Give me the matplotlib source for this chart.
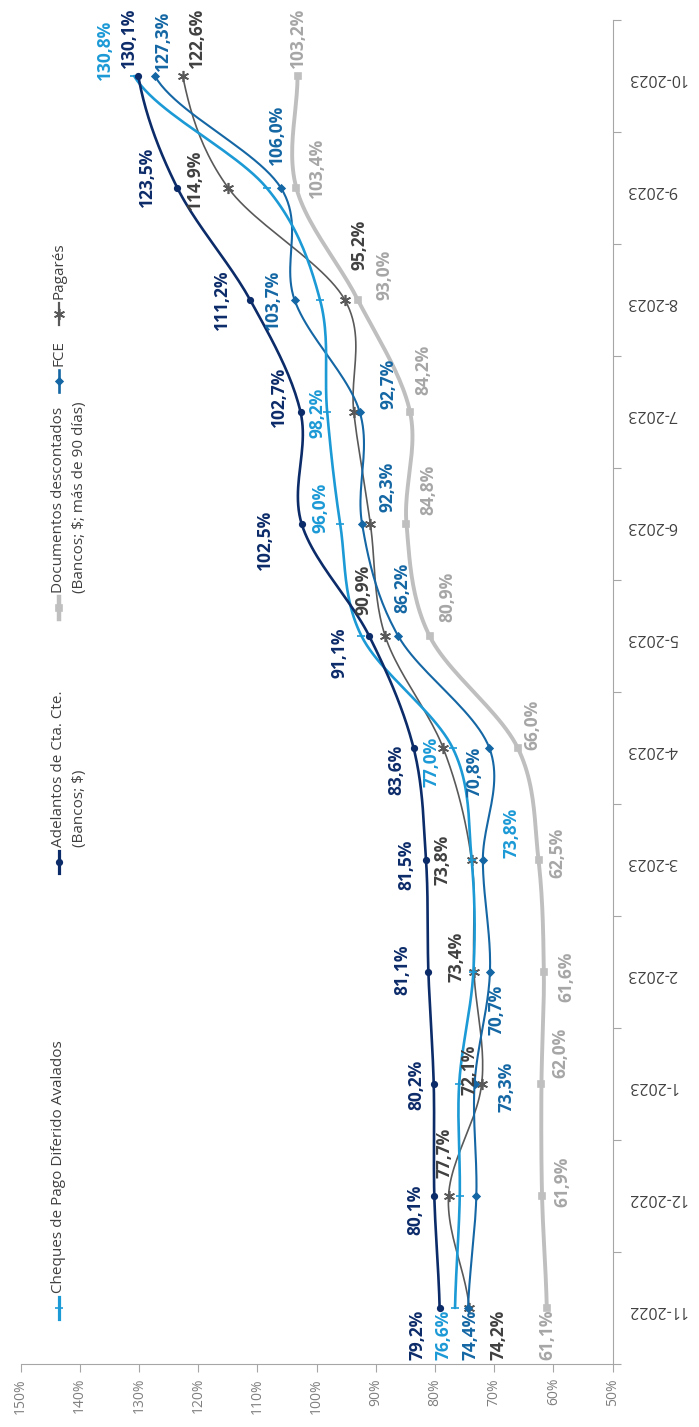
import numpy as np
import matplotlib
matplotlib.use("Agg")
import matplotlib.pyplot as plt
from matplotlib.lines import Line2D

plt.rcParams['font.family'] = ['Open Sans', 'DejaVu Sans']

# datos (%), meses de 11-2022 a 10-2023
meses = ["11-2022", "12-2022", "1-2023", "2-2023", "3-2023", "4-2023",
         "5-2023", "6-2023", "7-2023", "8-2023", "9-2023", "10-2023"]
cheques = [76.6, 75.8, 75.9, 73.5, 73.8, 77.0, 92.4, 96.0, 98.2, 99.4, 108.4, 130.8]
adelantos = [79.2, 80.1, 80.2, 81.1, 81.5, 83.6, 91.1, 102.5, 102.7, 111.2, 123.5, 130.1]
documentos = [61.1, 61.9, 62.0, 61.6, 62.5, 66.0, 80.9, 84.8, 84.2, 93.0, 103.4, 103.2]
fce = [74.4, 73.0, 73.3, 70.7, 71.9, 70.8, 86.2, 92.3, 92.7, 103.7, 106.0, 127.3]
pagares = [74.2, 77.7, 72.1, 73.4, 73.8, 78.6, 88.4, 90.9, 93.7, 95.2, 114.9, 122.6]

# posicion de etiquetas (px respecto al punto; None = sin etiqueta)
off_adel = [(-22, 27), (-19, 14), (-17, 1), (-26, -2), (-20, 5), (-17, 22),
            (-30, 17), (-37, 16), (-22, -15), (-28, 0), (-30, -11), (-9, -38)]
off_cheq = [(-12, 27), None, None, None, (40, -27), (-21, 14),
            None, (-20, -16), (-10, 1), None, None, (-29, -26)]
off_fce = [(2, 27), None, (32, 3), (7, 38), None, (-15, 24),
           (4, -48), (25, -37), (29, -28), (-22, 0), (-4, -53), (8, -35)]
off_pag = [(29, 27), (-4, -43), (-12, -14), (-17, -15), (-29, 0), None,
           None, (-7, 66), None, (15, -55), (-33, -8), (14, -38)]
off_doc = [(1, 27), (20, -14), (19, -31), (23, 5), (19, -7), (15, -23),
           (18, -39), (22, -34), (13, -42), (27, -25), (21, -20), (0, -38)]


def suave(v, n=24):
    # curva suavizada tipo Excel (Catmull-Rom)
    v = np.asarray(v, float)
    p = np.concatenate([[v[0]], v, [v[-1]]])
    xs, ys = [], []
    t = np.linspace(0, 1, n, endpoint=False)
    for i in range(len(v) - 1):
        p0, p1, p2, p3 = p[i], p[i + 1], p[i + 2], p[i + 3]
        c = 0.5 * (2 * p1 + (-p0 + p2) * t + (2 * p0 - 5 * p1 + 4 * p2 - p3) * t ** 2
                   + (-p0 + 3 * p1 - 3 * p2 + p3) * t ** 3)
        xs.extend(c)
        ys.extend(i + t)
    xs.append(v[-1])
    ys.append(len(v) - 1)
    return xs, ys


fig = plt.figure(figsize=(6.99, 14.27), dpi=100)
ax = fig.add_axes([20.5 / 699, 63 / 1427, 592 / 699, 1344 / 1427])

series = [
    ("Documentos descontados\n(Bancos; $; más de 90 días)", documentos, off_doc,
     '#BFBFBF', '#A6A6A6', 2.8, 's', 5),
    ("Pagarés", pagares, off_pag, '#595959', '#404040', 1.2, (6, 2, 0), 8),
    ("FCE", fce, off_fce, '#1467A4', '#1467A4', 1.5, 'D', 3.5),
    ("Cheques de Pago Diferido Avalados", cheques, off_cheq, '#1C9AD6', '#1C9AD6', 1.9, '_', 6),
    ("Adelantos de Cta. Cte.\n(Bancos; $)", adelantos, off_adel, '#0C2B69', '#0C2B69', 1.9, 'o', 4),
]

idx = np.arange(len(meses))
for nombre, vals, offs, col, tcol, lw, mk, ms in series:
    xs, ys = suave(vals)
    ax.plot(xs, ys, color=col, lw=lw, solid_capstyle='round')
    ax.plot(vals, idx, ls='none', marker=mk, ms=ms, color=col, mec=col, mew=1.2)
    for i, v in enumerate(vals):
        if offs[i] is None:
            continue
        dx, dy = offs[i]
        txt = "{:.1f}%".format(v).replace(".", ",")
        ax.annotate(txt, xy=(v, i), xytext=(dx * 0.72, -dy * 0.72),
                    textcoords='offset points', rotation=90, ha='center', va='center',
                    fontsize=12.5, fontweight='bold', color=tcol)

ax.set_xlim(150, 50)
ax.set_ylim(-0.5, 11.5)
ax.set_xticks(range(50, 160, 10))
ax.set_xticklabels(["{}%".format(t) for t in range(50, 160, 10)])
ax.tick_params(axis='x', direction='out', length=6, width=0.8, color='#A6A6A6',
               labelrotation=90, labelsize=10, labelcolor='#7F7F7F', pad=4)
ax.yaxis.tick_right()
ax.set_yticks(idx)
ax.set_yticklabels(meses)
ax.set_yticks(np.arange(-0.5, 12, 1), minor=True)
ax.tick_params(axis='y', which='major', length=0, pad=10, labelrotation=180,
               labelsize=11.5, labelcolor='#404040')
ax.tick_params(axis='y', which='minor', length=6, width=0.8, direction='out', color='#A6A6A6')
for s in ['top', 'left']:
    ax.spines[s].set_visible(False)
for s in ['right', 'bottom']:
    ax.spines[s].set_color('#A6A6A6')
    ax.spines[s].set_linewidth(0.8)

# leyenda (rotada)
ley_y = [1308, 862, 608, 381, 314]
ley_orden = [3, 4, 0, 2, 1]
for yy, k in zip(ley_y, ley_orden):
    nombre, vals, offs, col, tcol, lw, mk, ms = series[k]
    fig.add_artist(Line2D([59 / 699, 59 / 699], [1 - (yy + 11) / 1427, 1 - (yy - 11) / 1427],
                          color=col, lw=lw + 0.4))
    fig.add_artist(Line2D([59 / 699], [1 - yy / 1427], marker=mk, ms=ms, color=col,
                          mec=col, mew=1.2))
    lineas = nombre.split("\n")
    for j, ln in enumerate(lineas):
        fig.text((59 + 20 * j) / 699, 1 - (yy - 15) / 1427, ln, rotation=90,
                 ha='center', va='bottom', fontsize=11, color='#404040')

fig.savefig("out.png", dpi=100)
